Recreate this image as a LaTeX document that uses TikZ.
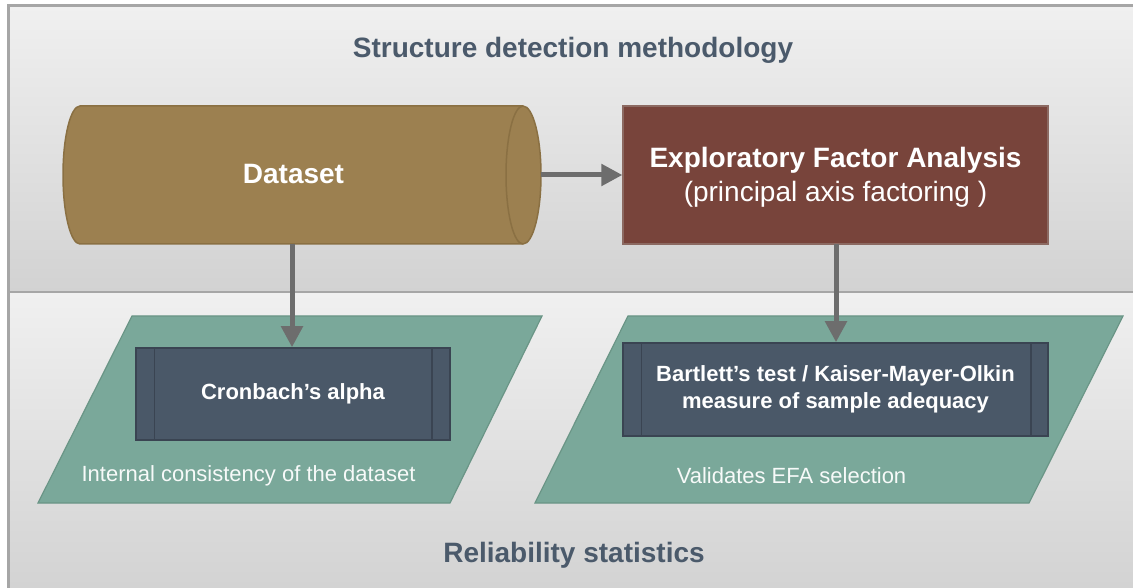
\documentclass[tikz,border=0pt]{standalone}
\usepackage{fontspec}
\setmainfont{Liberation Sans}
\usetikzlibrary{arrows.meta}
\definecolor{laneTop}{HTML}{F0F0F0}
\definecolor{laneBot}{HTML}{D2D2D2}
\definecolor{frameGray}{HTML}{A6A6A6}
\definecolor{titleCol}{HTML}{4B5A6B}
\definecolor{cylFill}{HTML}{9C8050}
\definecolor{cylLine}{HTML}{8A7043}
\definecolor{efaFill}{HTML}{78443B}
\definecolor{efaLine}{HTML}{8C6A62}
\definecolor{paraFill}{HTML}{7AA89A}
\definecolor{paraLine}{HTML}{6A9586}
\definecolor{procFill}{HTML}{4A5868}
\definecolor{procLine}{HTML}{3A4452}
\definecolor{arrowCol}{HTML}{6D6D6D}
\tikzset{
  frameline/.style={draw=frameGray, line width=3pt},
  divline/.style={draw=frameGray, line width=2pt},
  lanetitle/.style={text=titleCol, font=\fontsize{28}{34}\selectfont\bfseries, inner sep=0pt},
  cylshape/.style={fill=cylFill, draw=cylLine, line width=1.5pt},
  efabox/.style={fill=efaFill, draw=efaLine, line width=1.2pt, inner sep=0pt,
    minimum width=425pt, minimum height=138pt},
  efatextstyle/.style={text=white, align=center, inner sep=0pt,
    font=\fontsize{28}{34}\selectfont},
  parashape/.style={fill=paraFill, draw=paraLine, line width=1.2pt},
  procbox/.style={fill=procFill, draw=procLine, line width=1.5pt, inner sep=0pt,
    text=white, align=center, font=\fontsize{22}{27}\selectfont\bfseries},
  procinner/.style={draw=procLine, line width=1.5pt},
  paratext/.style={text=white!94!paraFill, font=\fontsize{22}{27}\selectfont, inner sep=0pt},
  flowarrow/.style={draw=arrowCol, line width=5pt, -{Triangle[length=21pt,width=21pt]}}
}
\begin{document}
\begin{tikzpicture}[x=1pt,y=1pt]
\useasboundingbox (0,0) rectangle (1133,587);
% lanes
\shade[top color=laneTop, bottom color=laneBot] (8.5,295) rectangle (1150,581.5);
\shade[top color=laneTop, bottom color=laneBot] (8.5,-10) rectangle (1150,295);
\draw[divline] (8.5,295) -- (1150,295);
\draw[frameline] (1150,581.5) -- (8.5,581.5) -- (8.5,-10);
% lane titles
\node[lanetitle, anchor=base] (t1) at (573,529.5) {Structure detection methodology};
\node[lanetitle, anchor=base] (t2) at (574,24.5) {Reliability statistics};
% cylinder (dataset)
\path[cylshape] (80,481) -- (523,481)
  arc[start angle=90, end angle=-90, x radius=18, y radius=69]
  -- (80,343)
  arc[start angle=270, end angle=90, x radius=17, y radius=69] -- cycle;
\draw[cylLine, line width=1.5pt] (523,481) arc[start angle=90, end angle=270, x radius=17, y radius=69];
\node[inner sep=0pt, minimum width=478pt, minimum height=138pt] (data) at (302,412) {};
\node[text=white, font=\fontsize{28}{34}\selectfont\bfseries, inner sep=0pt] (datatext) at (293.5,413) {Dataset};
\coordinate (dataright) at (541,412);
\coordinate (databot) at (292,343);
% EFA
\node[efabox] (efa) at (835.5,412) {};
\node[efatextstyle] (efatext) at (835.5,409.5) {\textbf{Exploratory Factor Analysis}\\(principal axis factoring )};
\coordinate (efabot) at (836,343);
% parallelograms
\path[parashape] (132,271) -- (542,271) -- (450,84) -- (38,84) -- cycle;
\path[parashape] (628,271) -- (1123,271) -- (1029,84) -- (535,84) -- cycle;
% process boxes
\node[procbox, minimum width=314pt, minimum height=92pt] (cron) at (293,193) {Cronbach’s alpha};
\draw[procinner] ([xshift=19pt]cron.north west) -- ([xshift=19pt]cron.south west);
\draw[procinner] ([xshift=-19pt]cron.north east) -- ([xshift=-19pt]cron.south east);
\node[procbox, minimum width=425pt, minimum height=93pt] (bart) at (835.5,197.5) {Bartlett’s test / Kaiser-Mayer-Olkin\\measure of sample adequacy};
\draw[procinner] ([xshift=19pt]bart.north west) -- ([xshift=19pt]bart.south west);
\draw[procinner] ([xshift=-18pt]bart.north east) -- ([xshift=-18pt]bart.south east);
% parallelogram texts
\node[paratext] (ic) at (248.5,111) {Internal consistency of the dataset};
\node[paratext] (val) at (791.5,111) {Validates EFA selection};
% arrows
\draw[flowarrow] (dataright) -- (dataright -| efa.west);
\draw[flowarrow] (databot) -- (databot |- cron.north);
\draw[flowarrow] (efabot) -- (efabot |- bart.north);
\end{tikzpicture}
\end{document}
